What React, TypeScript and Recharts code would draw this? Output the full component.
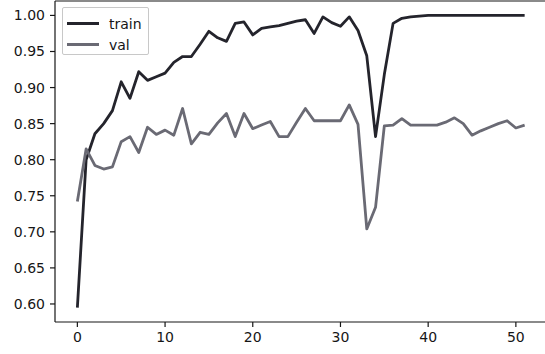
import { LineChart, Line, XAxis, YAxis, ReferenceLine, Legend } from "recharts";

// accuracy per epoch
const trainAcc = [
  0.595, 0.8, 0.836, 0.85, 0.868, 0.908, 0.885, 0.922, 0.91, 0.915,
  0.92, 0.935, 0.943, 0.943, 0.96, 0.978, 0.969, 0.964, 0.989, 0.991,
  0.973, 0.982, 0.984, 0.986, 0.989, 0.992, 0.994, 0.975, 0.998, 0.99,
  0.985, 0.998, 0.979, 0.944, 0.832, 0.918, 0.989, 0.996, 0.998, 0.999,
  1.0, 1.0, 1.0, 1.0, 1.0, 1.0, 1.0, 1.0, 1.0, 1.0,
  1.0, 1.0,
];
const valAcc = [
  0.742, 0.815, 0.792, 0.787, 0.79, 0.825, 0.832, 0.81, 0.845, 0.835,
  0.841, 0.834, 0.871, 0.822, 0.838, 0.835, 0.851, 0.864, 0.832, 0.864,
  0.843, 0.848, 0.853, 0.832, 0.832, 0.852, 0.871, 0.854, 0.854, 0.854,
  0.854, 0.876, 0.849, 0.704, 0.734, 0.847, 0.848, 0.857, 0.848, 0.848,
  0.848, 0.848, 0.852, 0.858, 0.85, 0.834, 0.84, 0.845, 0.85, 0.854,
  0.844, 0.848,
];
const xTicks = [0, 10, 20, 30, 40, 50];
const yTicks = [0.6, 0.65, 0.7, 0.75, 0.8, 0.85, 0.9, 0.95, 1.0];

const TRAIN = "#24242c";
const VAL = "#6a6a74";
const INK = "#161616";

const data = trainAcc.map((t, i) => ({ epoch: i, train: t, val: valAcc[i] }));

function LegendBox() {
  const rows = [
    { name: "train", color: TRAIN },
    { name: "val", color: VAL },
  ];
  return (
    <div
      style={{
        width: 87,
        height: 48,
        border: "1px solid #c8c8c8",
        borderRadius: 2,
        background: "#fff",
        boxSizing: "border-box",
        padding: "5px 0 0 4px",
      }}
    >
      {rows.map((r) => (
        <div key={r.name} style={{ display: "flex", alignItems: "center", height: 21 }}>
          <div style={{ width: 32, height: 2.8, background: r.color, marginRight: 10 }} />
          <span style={{ fontSize: 14, color: INK, lineHeight: "14px" }}>{r.name}</span>
        </div>
      ))}
    </div>
  );
}

export default function App() {
  return (
    <div
      style={{
        position: "absolute",
        left: 0,
        top: 0,
        width: 545,
        height: 354,
        overflow: "hidden",
        background: "#fff",
        fontFamily: "'DejaVu Sans', sans-serif",
      }}
    >
      <style>{`body{margin:0}`}</style>
      <LineChart width={548} height={354} data={data} margin={{ top: 1, right: 1, left: 0, bottom: 0 }}>
        <XAxis
          dataKey="epoch"
          type="number"
          domain={[-2.55, 53.55]}
          ticks={xTicks}
          height={32}
          tickSize={5}
          tickMargin={5}
          stroke={INK}
          strokeWidth={1.2}
          tick={{ fill: INK, fontSize: 14 }}
          allowDataOverflow
        />
        <YAxis
          type="number"
          domain={[0.575, 1.02]}
          ticks={yTicks}
          width={55}
          tickSize={5}
          tickMargin={5}
          stroke={INK}
          strokeWidth={1.2}
          tick={{ fill: INK, fontSize: 14 }}
          tickFormatter={(v: number) => v.toFixed(2)}
          allowDataOverflow
        />
        <ReferenceLine y={1.02} stroke={INK} strokeWidth={1.2} ifOverflow="visible" />
        <Line
          dataKey="train"
          stroke={TRAIN}
          strokeWidth={2.8}
          strokeLinejoin="round"
          dot={false}
          isAnimationActive={false}
        />
        <Line
          dataKey="val"
          stroke={VAL}
          strokeWidth={2.8}
          strokeLinejoin="round"
          dot={false}
          isAnimationActive={false}
        />
        <Legend
          layout="horizontal"
          align="center"
          verticalAlign="middle"
          content={() => <LegendBox />}
          wrapperStyle={{ left: 62, top: 7, width: 87, height: 48 }}
        />
      </LineChart>
    </div>
  );
}
